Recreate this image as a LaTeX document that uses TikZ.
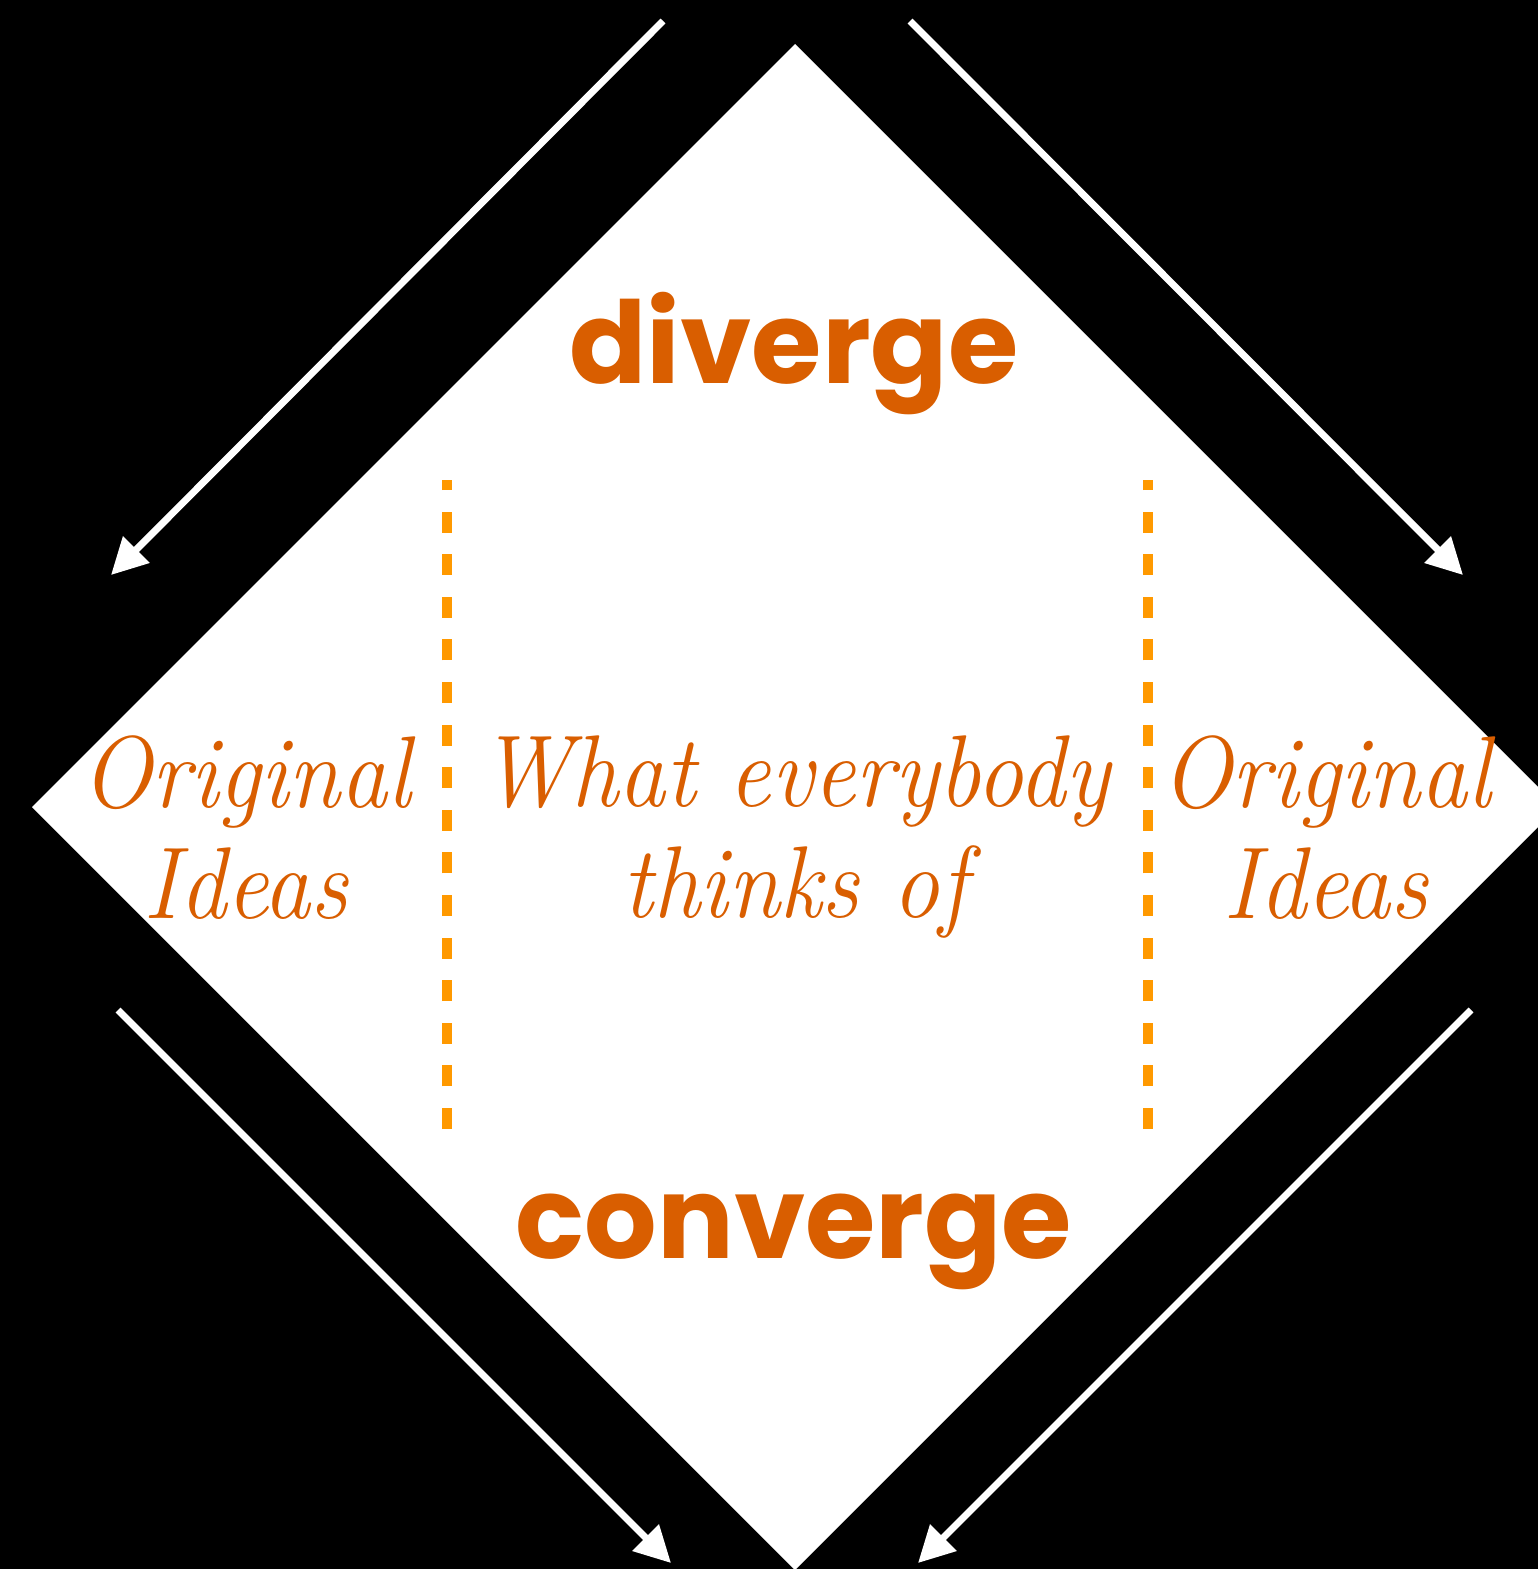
\documentclass[tikz,border=0pt]{standalone}
\usepackage{fontspec}
\usepackage{graphicx}
\usepackage{tikz}
\usetikzlibrary{arrows.meta,positioning}
\newfontfamily\boldsans{Poppins}[UprightFont=* Bold]
\definecolor{ink}{HTML}{D95E00}
\definecolor{dash}{HTML}{FF9900}
\newcommand{\narrow}[1]{\scalebox{0.92}[1]{#1}}

\begin{document}
\begin{tikzpicture}[x=1pt,y=-1pt,
    bigword/.style={text=ink, font=\boldsans\fontsize{114}{116}\selectfont,
                    inner sep=0pt, anchor=base},
    ideatext/.style={text=ink, font=\itshape\fontsize{102}{111}\selectfont,
                     align=center, inner sep=0pt},
    flowarrow/.style={draw=white, line width=7pt,
                      -{Triangle[length=36pt,width=36pt]}},
    splitline/.style={draw=dash, line width=10pt, dash pattern=on 21pt off 21.6pt},
]
\useasboundingbox (0,0) rectangle (1538,1569);
\fill[black] (0,0) rectangle (1538,1569);
\clip (0,0) rectangle (1538,1569);

% the diamond
\fill[white] (795,44) -- (1558,807) -- (795,1570) -- (32,807) -- cycle;

% arrows round it
\coordinate (tlfrom) at (663,21);
\coordinate (tlto) at (111,575);
\coordinate (trfrom) at (910,21);
\coordinate (trto) at (1463,575);
\coordinate (blfrom) at (118,1010);
\coordinate (blto) at (671,1563);
\coordinate (brfrom) at (1471,1010);
\coordinate (brto) at (918,1563);
\draw[flowarrow] (tlfrom) -- (tlto);
\draw[flowarrow] (trfrom) -- (trto);
\draw[flowarrow] (blfrom) -- (blto);
\draw[flowarrow] (brfrom) -- (brto);

% dashed split lines
\coordinate (lsplitbot) at (447,1129);
\coordinate (lsplittop) at (447,480);
\coordinate (rsplitbot) at (1148,1129);
\coordinate (rsplittop) at (1148,480);
\draw[splitline] (lsplitbot) -- (lsplittop);
\draw[splitline] (rsplitbot) -- (rsplittop);

% words
\node[bigword] (div) at (794,383) {diverge};
\node[bigword] (conv) at (794,1258) {converge};

\node[ideatext] (leftidea) at (246,828) {\narrow{Original}\\\narrow{Ideas}};
\node[ideatext] (mididea) at (795,837) {\narrow{What everybody}\\\narrow{thinks of}};
\node[ideatext] (rightidea) at (1326,828) {\narrow{Original}\\\narrow{Ideas}};

\end{tikzpicture}
\end{document}
